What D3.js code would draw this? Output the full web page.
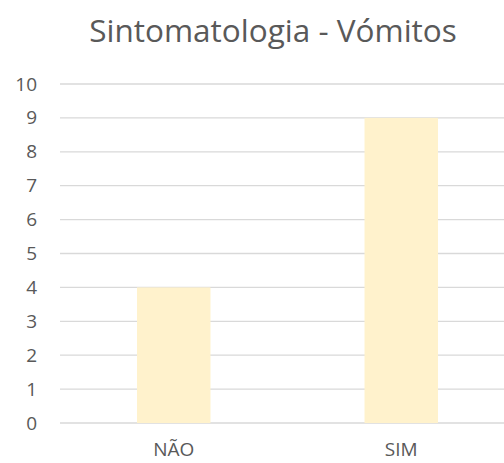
<!DOCTYPE html>
<html>
<head>
<meta charset="utf-8">
<script src="https://cdn.jsdelivr.net/npm/d3@7"></script>
<style>
  body { margin: 0; background: #fff; }
  text { font-family: "Open Sans", "Noto Sans", sans-serif; fill: #595959; }
</style>
</head>
<body>
<svg width="504" height="463"></svg>
<script>
// Chart data
const categories = ["NÃO", "SIM"];
const values = [4, 9];
const yTicks = [0, 1, 2, 3, 4, 5, 6, 7, 8, 9, 10];
const title = "Sintomatologia - Vómitos";

const svg = d3.select("svg");
const margin = { top: 84, right: -11, bottom: 40, left: 60 };
const width = +svg.attr("width") - margin.left - margin.right;
const height = +svg.attr("height") - margin.top - margin.bottom;

const g = svg.append("g").attr("transform", `translate(${margin.left},${margin.top})`);

// Scales
const x = d3.scaleBand().domain(categories).range([0, width])
  .paddingInner(0.677).paddingOuter(0.3385);
const y = d3.scaleLinear().domain([0, 10]).range([height, 0]);

// Gridlines
g.selectAll(".grid").data(yTicks).enter().append("line")
  .attr("class", "grid")
  .attr("x1", 0).attr("x2", width)
  .attr("y1", d => y(d)).attr("y2", d => y(d))
  .attr("stroke", "#d9d9d9").attr("stroke-width", 1.3);

// Bars
g.selectAll(".bar").data(values).enter().append("rect")
  .attr("class", "bar")
  .attr("x", (d, i) => x(categories[i]))
  .attr("y", d => y(d))
  .attr("width", x.bandwidth())
  .attr("height", d => height - y(d))
  .attr("fill", "#fff2cc");

// Y axis
const yAxis = g.append("g").attr("transform", "translate(-23,0)")
  .call(d3.axisLeft(y).tickValues(yTicks).tickSize(0).tickPadding(0));
yAxis.select(".domain").remove();
yAxis.selectAll("text").style("font-size", "19px").attr("fill", "#595959");

// X axis
const xAxis = g.append("g").attr("transform", `translate(0,${height})`)
  .call(d3.axisBottom(x).tickSize(0).tickPadding(20));
xAxis.select(".domain").remove();
xAxis.selectAll("text").style("font-size", "19px").attr("fill", "#595959");

// Title
svg.append("text")
  .attr("x", 273)
  .attr("y", 42)
  .attr("text-anchor", "middle")
  .style("font-size", "31.5px")
  .text(title);
</script>
</body>
</html>
